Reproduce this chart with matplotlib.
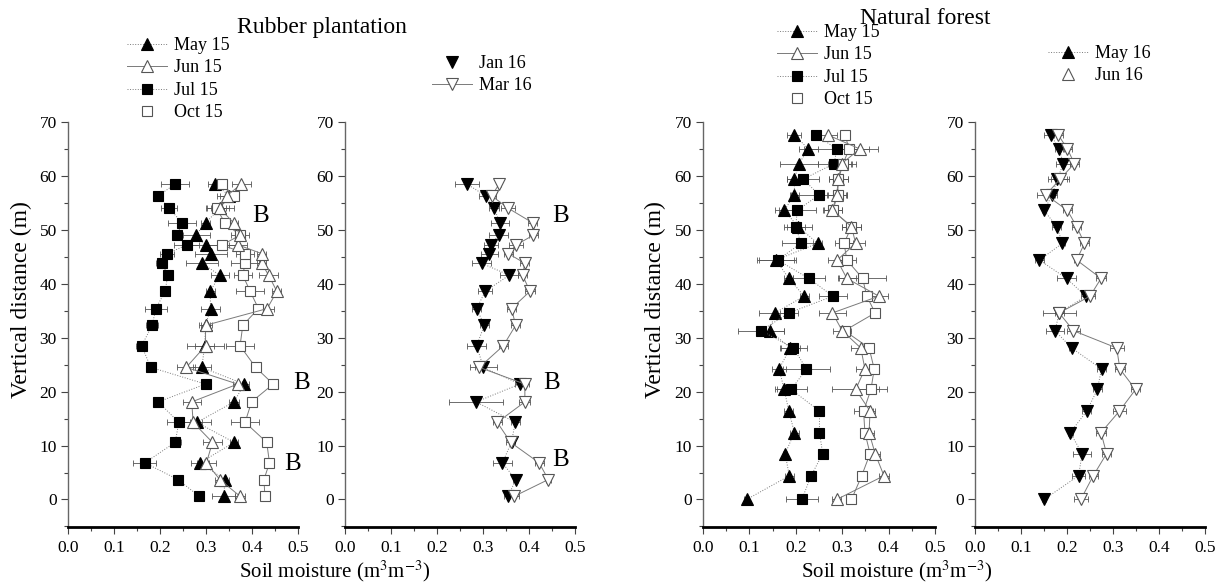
import matplotlib
matplotlib.use("Agg")
import matplotlib.pyplot as plt
from matplotlib.lines import Line2D
from matplotlib.ticker import MultipleLocator, FormatStrFormatter

plt.rcParams['font.family'] = ['Liberation Serif', 'DejaVu Serif']
plt.rcParams['mathtext.fontset'] = 'stix'

# ---------------- data ----------------
# Rubber plantation
rp_depth = [0.6, 3.7, 6.8, 10.6, 14.3, 18.1, 21.4, 24.5, 28.5, 32.3, 35.4,
            38.6, 41.6, 43.8, 45.6, 47.2, 49.0, 51.3, 54.0, 56.3, 58.5]
rp_may15 = [0.339, 0.341, 0.287, 0.361, 0.280, 0.361, 0.383, 0.291, 0.297, 0.299, 0.310,
            0.309, 0.330, 0.291, 0.310, 0.299, 0.278, 0.299, 0.330, 0.351, 0.320]
rp_may15_err = [0.025, 0.01, 0.02, 0.008, 0.03, 0.01, 0.01, 0.02, 0.02, 0.015, 0.02,
                0.01, 0.02, 0.035, 0.035, 0.03, 0.03, 0.01, 0.03, 0.02, 0.015]
rp_jun15 = [0.374, 0.330, 0.301, 0.314, 0.272, 0.269, 0.369, 0.257, 0.299, 0.299, 0.433,
            0.454, 0.436, 0.421, 0.421, 0.370, 0.374, 0.360, 0.330, 0.345, 0.377]
rp_jun15_err = [0.01, 0.01, 0.02, 0.02, 0.02, 0.02, 0.01, 0.02, 0.04, 0.01, 0.015,
                0.01, 0.02, 0.01, 0.01, 0.02, 0.01, 0.01, 0.02, 0.02, 0.02]
rp_jul15 = [0.285, 0.239, 0.167, 0.233, 0.241, 0.196, 0.299, 0.180, 0.160, 0.183, 0.191,
            0.211, 0.217, 0.204, 0.216, 0.258, 0.237, 0.248, 0.220, 0.196, 0.233]
rp_jul15_err = [0.005, 0.008, 0.025, 0.012, 0.025, 0.006, 0.005, 0.005, 0.012, 0.013, 0.024,
                0.006, 0.005, 0.012, 0.015, 0.027, 0.012, 0.03, 0.018, 0.005, 0.031]
rp_oct15 = [0.428, 0.426, 0.438, 0.432, 0.385, 0.399, 0.446, 0.408, 0.374, 0.380, 0.414,
            0.396, 0.380, 0.385, 0.385, 0.335, 0.374, 0.341, 0.323, 0.361, 0.335]
rp_oct15_err = [0.005, 0.005, 0.01, 0.01, 0.03, 0.01, 0.01, 0.01, 0.03, 0.01, 0.01,
                0.03, 0.02, 0.03, 0.02, 0.03, 0.02, 0.01, 0.02, 0.01, 0.01]
rp_jan16 = [0.355, 0.371, 0.342, 0.362, 0.370, 0.285, 0.380, 0.301, 0.286, 0.303, 0.286,
            0.305, 0.357, 0.297, 0.314, 0.317, 0.334, 0.337, 0.324, 0.306, 0.265]
rp_jan16_err = [0.01, 0.005, 0.02, 0.005, 0.01, 0.058, 0.01, 0.03, 0.02, 0.01, 0.01,
                0.015, 0.02, 0.02, 0.018, 0.015, 0.02, 0.02, 0.01, 0.015, 0.026]
rp_mar16 = [0.368, 0.442, 0.422, 0.360, 0.331, 0.391, 0.391, 0.292, 0.344, 0.371, 0.362,
            0.402, 0.386, 0.391, 0.355, 0.372, 0.409, 0.408, 0.355, 0.319, 0.335]
rp_mar16_err = [0.01, 0.005, 0.01, 0.01, 0.01, 0.012, 0.01, 0.01, 0.01, 0.01, 0.01,
                0.01, 0.01, 0.01, 0.01, 0.015, 0.01, 0.01, 0.015, 0.01, 0.005]

# Natural forest
nf_depth = [0.0, 4.4, 8.5, 12.4, 16.4, 20.4, 24.2, 28.1, 31.3, 34.6, 37.7,
            41.0, 44.4, 47.5, 50.6, 53.6, 56.5, 59.4, 62.3, 65.0, 67.6]
nf_may15 = [0.094, 0.186, 0.177, 0.197, 0.185, 0.175, 0.164, 0.188, 0.144, 0.155, 0.218,
            0.185, 0.157, 0.247, 0.205, 0.175, 0.197, 0.197, 0.207, 0.227, 0.197]
nf_may15_err = [0.005, 0.01, 0.005, 0.01, 0.01, 0.015, 0.015, 0.02, 0.03, 0.035, 0.01,
                0.01, 0.04, 0.01, 0.03, 0.02, 0.01, 0.015, 0.04, 0.02, 0.015]
nf_jun15 = [0.288, 0.390, 0.371, 0.358, 0.360, 0.329, 0.349, 0.340, 0.300, 0.279, 0.379,
            0.310, 0.289, 0.329, 0.320, 0.279, 0.288, 0.292, 0.299, 0.338, 0.269]
nf_jun15_err = [0.01, 0.01, 0.01, 0.01, 0.01, 0.05, 0.02, 0.02, 0.02, 0.03, 0.02,
                0.02, 0.02, 0.02, 0.02, 0.02, 0.02, 0.02, 0.03, 0.04, 0.02]
nf_jul15 = [0.213, 0.233, 0.258, 0.251, 0.251, 0.190, 0.223, 0.195, 0.125, 0.185, 0.280,
            0.228, 0.161, 0.211, 0.200, 0.203, 0.250, 0.216, 0.283, 0.288, 0.244]
nf_jul15_err = [0.035, 0.01, 0.01, 0.01, 0.01, 0.035, 0.05, 0.03, 0.05, 0.02, 0.03,
                0.035, 0.04, 0.04, 0.02, 0.04, 0.06, 0.035, 0.035, 0.07, 0.01]
nf_oct15 = [0.320, 0.342, 0.360, 0.349, 0.346, 0.362, 0.369, 0.358, 0.305, 0.371, 0.353,
            0.344, 0.310, 0.304, 0.320, 0.280, 0.290, 0.292, 0.302, 0.315, 0.306]
nf_oct15_err = [0.01, 0.01, 0.01, 0.01, 0.02, 0.035, 0.01, 0.01, 0.01, 0.01, 0.01,
                0.05, 0.02, 0.02, 0.02, 0.02, 0.02, 0.02, 0.02, 0.02, 0.01]
nf_may16 = [0.150, 0.225, 0.233, 0.207, 0.243, 0.266, 0.275, 0.210, 0.174, 0.183, 0.241,
            0.199, 0.140, 0.190, 0.178, 0.150, 0.168, 0.179, 0.192, 0.183, 0.165]
nf_may16_err = [0.005, 0.015, 0.02, 0.005, 0.01, 0.01, 0.01, 0.005, 0.02, 0.01, 0.01,
                0.02, 0.01, 0.005, 0.01, 0.005, 0.01, 0.02, 0.015, 0.01, 0.015]
nf_jun16 = [0.230, 0.257, 0.286, 0.274, 0.314, 0.349, 0.315, 0.308, 0.214, 0.183, 0.250,
            0.274, 0.221, 0.238, 0.221, 0.201, 0.154, 0.185, 0.216, 0.201, 0.181]
nf_jun16_err = [0.015, 0.01, 0.01, 0.01, 0.015, 0.01, 0.01, 0.015, 0.015, 0.036, 0.01,
                0.01, 0.005, 0.01, 0.01, 0.01, 0.02, 0.02, 0.01, 0.01, 0.01]

# ---------------- styles ----------------
LINEC = '#7a7a7a'
EDGEC = '#555555'
STY = {
    'may15': dict(marker='^', mfc='black', mec='black', ls=':', ms=9),
    'jun15': dict(marker='^', mfc='white', mec=EDGEC, ls='-', ms=9),
    'jul15': dict(marker='s', mfc='black', mec='black', ls=':', ms=6.5),
    'oct15': dict(marker='s', mfc='white', mec=EDGEC, ls='-', ms=7),
    'dn_fill': dict(marker='v', mfc='black', mec='black', ls=':', ms=9),
    'dn_open': dict(marker='v', mfc='white', mec=EDGEC, ls='-', ms=9),
}

W, H = 1226, 585
fig = plt.figure(figsize=(W / 100, H / 100), dpi=100)


def px_axes(x0, x1, ytop, ybot):
    return fig.add_axes([x0 / W, 1 - ybot / H, (x1 - x0) / W, (ybot - ytop) / H])


def series(ax, x, y, err, st):
    ax.errorbar(x, y, xerr=err, fmt='none', ecolor='#555555', elinewidth=0.6,
                capsize=2.2, capthick=0.6, zorder=2)
    ax.plot(x, y, color=LINEC, lw=0.7, ls=st['ls'], marker=st['marker'],
            mfc=st['mfc'], mec=st['mec'], ms=st['ms'], mew=0.8, zorder=3)


def style_axes(ax):
    ax.set_xlim(0, 0.5)
    ax.set_ylim(-5.1, 70)
    ax.xaxis.set_major_locator(MultipleLocator(0.1))
    ax.xaxis.set_minor_locator(MultipleLocator(0.05))
    ax.xaxis.set_major_formatter(FormatStrFormatter('%.1f'))
    ax.yaxis.set_major_locator(MultipleLocator(10))
    ax.yaxis.set_minor_locator(MultipleLocator(5))
    for s in ('top', 'right'):
        ax.spines[s].set_visible(False)
    ax.spines['bottom'].set_linewidth(2.0)
    ax.spines['bottom'].set_color('black')
    ax.spines['left'].set_linewidth(1.0)
    ax.spines['left'].set_color('#666666')
    ax.tick_params(which='major', direction='out', length=5, width=0.8,
                   labelsize=12.5, color='#444444', pad=3)
    ax.tick_params(which='minor', direction='out', length=3, width=0.8, color='#444444')
    ax.tick_params(axis='x', pad=4)


ax1 = px_axes(68, 298, 122, 527)
ax2 = px_axes(345, 575, 122, 527)
ax3 = px_axes(703, 935, 122, 527)
ax4 = px_axes(975, 1205, 122, 527)

# panel 1
series(ax1, rp_jul15, rp_depth, rp_jul15_err, STY['jul15'])
series(ax1, rp_may15, rp_depth, rp_may15_err, STY['may15'])
series(ax1, rp_oct15, rp_depth, rp_oct15_err, STY['oct15'])
series(ax1, rp_jun15, rp_depth, rp_jun15_err, STY['jun15'])
# panel 2
series(ax2, rp_jan16, rp_depth, rp_jan16_err, STY['dn_fill'])
series(ax2, rp_mar16, rp_depth, rp_mar16_err, STY['dn_open'])
# panel 3
series(ax3, nf_may15, nf_depth, nf_may15_err, STY['may15'])
series(ax3, nf_jul15, nf_depth, nf_jul15_err, STY['jul15'])
series(ax3, nf_oct15, nf_depth, nf_oct15_err, STY['oct15'])
series(ax3, nf_jun15, nf_depth, nf_jun15_err, STY['jun15'])
# panel 4
series(ax4, nf_may16, nf_depth, nf_may16_err, STY['dn_fill'])
series(ax4, nf_jun16, nf_depth, nf_jun16_err, STY['dn_open'])

for ax in (ax1, ax2, ax3, ax4):
    style_axes(ax)

# "B" annotations
for ax, pts in ((ax1, [(0.40, 52.5), (0.49, 21.6), (0.47, 6.6)]),
                (ax2, [(0.45, 52.5), (0.43, 21.6), (0.45, 7.4)])):
    for (bx, by) in pts:
        ax.text(bx, by, 'B', fontsize=18, va='center', ha='left')

# axis labels and titles
ylab_kw = dict(fontsize=17, rotation=90, va='center', ha='center')
fig.text(21 / W, 1 - 300 / H, 'Vertical distance (m)', **ylab_kw)
fig.text(655 / W, 1 - 300 / H, 'Vertical distance (m)', **ylab_kw)
xl = r'Soil moisture (m$^{3}$m$^{-3}$)'
fig.text(335 / W, 1 - 571 / H, xl, fontsize=15, ha='center', va='center')
fig.text(897 / W, 1 - 571 / H, xl, fontsize=15, ha='center', va='center')
fig.text(322 / W, 1 - 27 / H, 'Rubber plantation', fontsize=17, ha='center', va='center')
fig.text(925 / W, 1 - 18 / H, 'Natural forest', fontsize=17, ha='center', va='center')


# legends
def h(marker, mfc, mec, ls, ms):
    return Line2D([], [], color=LINEC, lw=0.7, ls=ls, marker=marker, mfc=mfc,
                  mec=mec, ms=ms, mew=0.8)


leg_main = [h('^', 'black', 'black', ':', 9), h('^', 'white', EDGEC, '-', 9),
            h('s', 'black', 'black', ':', 6.5), h('s', 'white', EDGEC, 'none', 7)]
leg_main_lab = ['May 15', 'Jun 15', 'Jul 15', 'Oct 15']
leg_kw = dict(frameon=False, fontsize=13, handlelength=2.2, handletextpad=0.4,
              labelspacing=0.3, borderpad=0, borderaxespad=0, loc='upper left')

fig.legend(leg_main, leg_main_lab, bbox_to_anchor=(127 / W, 1 - 37 / H), **leg_kw)
fig.legend([h('v', 'black', 'black', 'none', 9), h('v', 'white', EDGEC, '-', 9)],
           ['Jan 16', 'Mar 16'], bbox_to_anchor=(432 / W, 1 - 55 / H), **leg_kw)
fig.legend(leg_main, leg_main_lab, bbox_to_anchor=(777 / W, 1 - 24 / H), **leg_kw)
fig.legend([h('^', 'black', 'black', ':', 9), h('^', 'white', EDGEC, 'none', 9)],
           ['May 16', 'Jun 16'], bbox_to_anchor=(1048 / W, 1 - 45 / H), **leg_kw)

fig.savefig('out.png', dpi=100)
